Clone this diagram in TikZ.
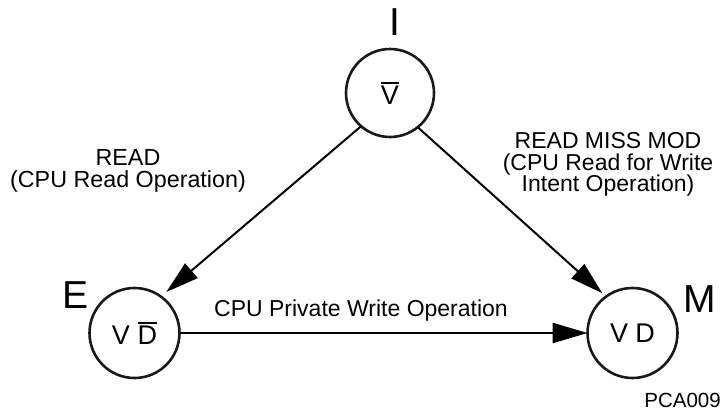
\documentclass[tikz,border=0pt]{standalone}
\usepackage{fontspec}
\setmainfont{Liberation Sans}
\usetikzlibrary{arrows.meta}
\newcommand\olbar[1]{\setbox0\hbox{#1}\vbox{\hrule height 1.8pt\kern 2.2pt\box0}}
\tikzset{
  state/.style={circle, draw=black!90, line width=2.6pt, minimum size=#1, inner sep=0pt, outer sep=0pt,
    font=\fontsize{27}{30}\selectfont},
  statename/.style={anchor=base, inner sep=0pt, font=\fontsize{39}{42}\selectfont},
  lbl/.style={inner sep=0pt, align=center, font=\fontsize{23}{21.5}\selectfont},
  diag/.style={line width=2pt, -{Triangle[length=33pt,width=19pt]}},
  horiz/.style={line width=2.7pt, -{Triangle[length=35pt,width=20pt]}},
}
\begin{document}
\begin{tikzpicture}[x=1pt,y=-1pt]
\useasboundingbox (0,0) rectangle (723,410);
\node[state=88pt] (I) at (390,93) {\olbar{V}};
\node[state=90pt] (E) at (134.5,333) {V \olbar{D}};
\node[state=90pt] (M) at (632.5,333) {V D};
\node[statename] (In) at (394.5,35) {I};
\node[statename] (En) at (76,308) {E};
\node[statename] (Mn) at (700,312) {M};
\node[lbl, anchor=north, font=\fontsize{23.3}{22}\selectfont] (readl) at (128,149.5) {READ\\(CPU Read Operation)};
\node[lbl, anchor=north] (readr) at (608,132.5) {READ MISS MOD\\(CPU Read for Write\\Intent Operation)};
\node[lbl, anchor=base] (wr) at (361,316) {CPU Private Write Operation};
\node[lbl, anchor=base east, font=\fontsize{20.5}{22}\selectfont] (pca) at (721,407) {PCA009};
\draw[diag, shorten >=7pt] (I.229.4) -- (E.54);
\draw[diag, shorten >=5pt] (I.309.6) -- (M.126);
\draw[horiz] (E.east) -- (M.west);
\end{tikzpicture}
\end{document}
